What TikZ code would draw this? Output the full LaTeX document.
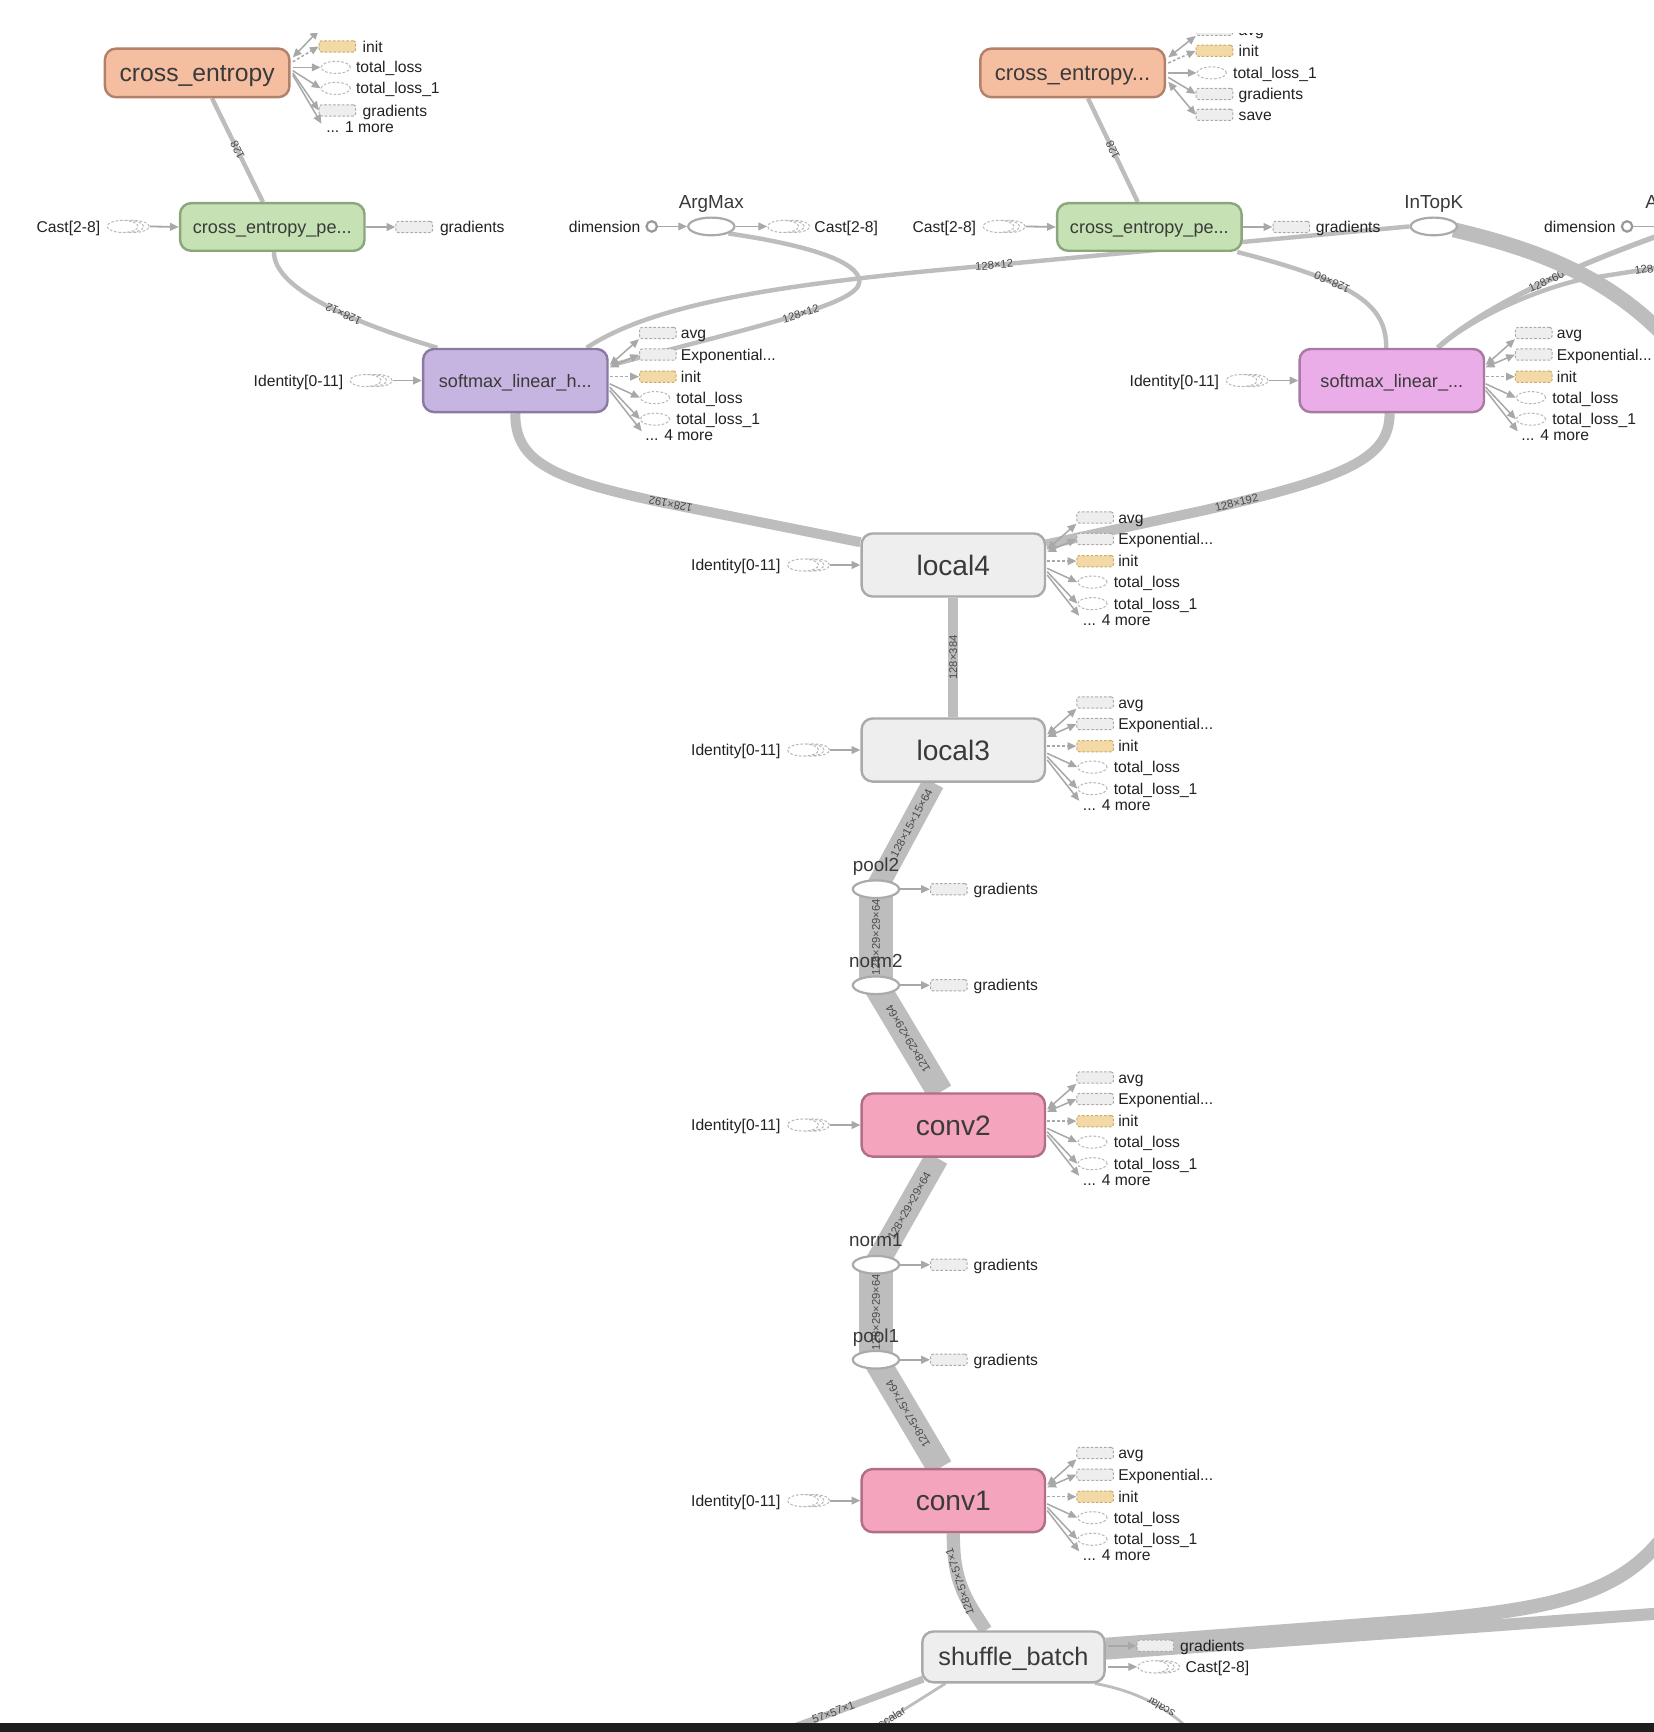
\documentclass[tikz,border=0pt]{standalone}
\usepackage{fontspec}
\setmainfont{Liberation Sans}
\usetikzlibrary{arrows.meta,shapes.geometric,calc}
\pgfdeclarelayer{edges}
\pgfsetlayers{edges,main}
\definecolor{edgec}{HTML}{BDBDBD}
\definecolor{arrc}{HTML}{A8A8A8}
\definecolor{txt}{HTML}{222222}
\definecolor{btxt}{HTML}{3A3A3A}
\definecolor{elbl}{HTML}{4A4A4A}
\definecolor{cefill}{HTML}{F5BEA0}
\definecolor{celine}{HTML}{B3806A}
\definecolor{pefill}{HTML}{C6E2B4}
\definecolor{peline}{HTML}{8BA57D}
\definecolor{s1fill}{HTML}{C6B5E0}
\definecolor{s1line}{HTML}{8A7AA3}
\definecolor{s2fill}{HTML}{EBADE8}
\definecolor{s2line}{HTML}{A77AA4}
\definecolor{gfill}{HTML}{EEEEEE}
\definecolor{gline}{HTML}{AAAAAA}
\definecolor{cvfill}{HTML}{F5A4BD}
\definecolor{cvline}{HTML}{B06F86}
\definecolor{initfill}{HTML}{F2D9A6}
\definecolor{initline}{HTML}{C9AC6C}
\definecolor{dline}{HTML}{B8B8B8}
\definecolor{dimline}{HTML}{999999}
\definecolor{darkstrip}{HTML}{1E1E1E}
\tikzset{
 >={Triangle[length=4.4pt,width=3.8pt]},
 bigbox/.style={draw, rounded corners=5.5pt, line width=1.2pt, inner sep=0pt, text=btxt, minimum width=91.85pt},
 cebox/.style={bigbox, fill=cefill, draw=celine, minimum height=24.2pt},
 pebox/.style={bigbox, fill=pefill, draw=peline, minimum height=23.7pt, font=\fontsize{9}{10}\selectfont, text height=6.5pt, text depth=0pt},
 s1box/.style={bigbox, fill=s1fill, draw=s1line, minimum height=31.4pt, font=\fontsize{9}{10}\selectfont, text height=6.5pt, text depth=0pt},
 s2box/.style={bigbox, fill=s2fill, draw=s2line, minimum height=31.4pt, font=\fontsize{9}{10}\selectfont, text height=6.5pt, text depth=0pt},
 lbox/.style={bigbox, fill=gfill, draw=gline, minimum width=91.3pt, minimum height=31.4pt, font=\fontsize{14}{16}\selectfont, text height=10pt, text depth=0pt},
 cvbox/.style={lbox, fill=cvfill, draw=cvline},
 sbbox/.style={bigbox, fill=gfill, draw=gline, minimum width=90.8pt, minimum height=25.3pt, font=\fontsize{12.6}{14}\selectfont, text height=9pt, text depth=0pt},
 srect/.style={draw=gline, fill=gfill, dash pattern=on 1.3pt off 0.9pt, line width=0.5pt, rounded corners=1.2pt, minimum width=18.2pt, minimum height=5.6pt, inner sep=0pt},
 irect/.style={srect, fill=initfill, draw=initline},
 sell/.style={ellipse, draw=dline, fill=white, dash pattern=on 1.3pt off 0.9pt, line width=0.5pt, minimum width=14.6pt, minimum height=6pt, inner sep=0pt},
 stell/.style={sell, minimum width=15.4pt},
 opell/.style={ellipse, draw=gline, fill=white, line width=1.1pt, minimum width=23pt, minimum height=8.8pt, inner sep=0pt},
 dimc/.style={circle, draw=dimline, fill=white, line width=1.1pt, minimum size=5.2pt, inner sep=0pt},
 lbl/.style={font=\fontsize{7.8}{9}\selectfont, text=txt, inner sep=0pt, text height=5.6pt, text depth=0pt},
 oplbl/.style={font=\fontsize{9.4}{11}\selectfont, text=btxt, inner sep=0pt, text height=6.7pt, text depth=0pt},
 elab/.style={font=\fontsize{5.6}{6.5}\selectfont, text=elbl, sloped, allow upside down, inner sep=0.6pt},
 band/.style={draw=edgec, line cap=butt},
 fanarr/.style={draw=arrc, line width=0.75pt, ->},
 fanbi/.style={draw=arrc, line width=0.75pt, <->},
 fandot/.style={draw=arrc, line width=0.75pt, ->, dash pattern=on 1.4pt off 1.1pt},
 connarr/.style={draw=arrc, line width=0.9pt, ->},
}
\newcommand\sernode[3]{%
  \node[stell] (#1c) at (#2+24,#3) {};
  \node[stell] (#1b) at (#2+19,#3) {};
  \node[stell] (#1) at (#2+14,#3) {};}
\newcommand\outfan[3]{%
 \begin{scope}[shift={(#2,#3)}]
  \node[srect] (#1avg) at (45.5,-43) {};
  \node[lbl,anchor=west] (#1avgt) at (66,-43) {avg};
  \node[srect] (#1exp) at (45.5,-23.5) {};
  \node[lbl,anchor=west] (#1expt) at (66,-23.5) {Exponential...};
  \node[irect] (#1ini) at (45.5,-3.5) {};
  \node[lbl,anchor=west] (#1init) at (66,-3.5) {init};
  \node[sell] (#1tl) at (43,15.5) {};
  \node[lbl,anchor=west] (#1tlt) at (62,15.5) {total\_loss};
  \node[sell] (#1tlb) at (43,35) {};
  \node[lbl,anchor=west] (#1tlbt) at (62,35) {total\_loss\_1};
  \node[lbl,anchor=west] (#1more) at (34,49.5) {... 4 more};
  \coordinate (#1p1) at (2,-14);
  \coordinate (#1p2) at (2,-12);
  \coordinate (#1p3) at (2,-3.5);
  \coordinate (#1p4) at (2,3);
  \coordinate (#1p5) at (2,6);
  \coordinate (#1p6) at (2,9);
  \coordinate (#1p7) at (31,46);
  \draw[fanbi] (#1p1) -- (#1avg.south west);
  \draw[fanbi] (#1p2) -- (#1exp.west);
  \draw[fandot] (#1p3) -- (#1ini.west);
  \draw[fanarr] (#1p4) -- (#1tl.west);
  \draw[fanarr] (#1p5) -- (#1tlb.west);
  \draw[fanarr] (#1p6) -- (#1p7);
 \end{scope}}
\begin{document}
\begin{tikzpicture}[x=0.55pt,y=-0.55pt]
\useasboundingbox (0,0) rectangle (1497,1568);

% ---------- main nodes ----------
\node[cebox, font=\fontsize{12.3}{14}\selectfont, text height=8.8pt, text depth=0pt] (ce1) at (178.5,66) {cross\_entropy};
\node[cebox, font=\fontsize{11}{13}\selectfont, text height=7.9pt, text depth=0pt] (ce2) at (971,66) {cross\_entropy...};
\node[pebox] (pe1) at (246.5,205.5) {cross\_entropy\_pe...};
\node[pebox] (pe2) at (1040.5,205.5) {cross\_entropy\_pe...};
\node[s1box] (s1) at (466.5,344.5) {softmax\_linear\_h...};
\node[s2box] (s2) at (1260,344.5) {softmax\_linear\_...};
\node[lbox] (l4) at (863,511.5) {local4};
\node[lbox] (l3) at (863,679) {local3};
\node[cvbox] (c2) at (863,1018.5) {conv2};
\node[cvbox] (c1) at (863,1358.5) {conv1};
\node[sbbox] (sb) at (917.5,1500) {shuffle\_batch};

% ---------- op ellipses ----------
\node[opell] (am) at (644,205) {};
\node[oplbl] (amt) at (644,183) {ArgMax};
\node[opell] (itk) at (1298,205) {};
\node[oplbl] (itkt) at (1298,183) {InTopK};
\node[opell] (p2) at (793,805) {};
\node[oplbl] (p2t) at (793,783) {pool2};
\node[opell] (n2) at (793,892) {};
\node[oplbl] (n2t) at (793,869.5) {norm2};
\node[opell] (n1) at (793,1145) {};
\node[oplbl] (n1t) at (793,1122.5) {norm1};
\node[opell] (p1) at (793,1231) {};
\node[oplbl] (p1t) at (793,1209) {pool1};

% ---------- dimension constants ----------
\node[dimc] (d1) at (590,205) {};
\node[lbl,anchor=east] (d1t) at (580,205) {dimension};
\node[dimc] (d2) at (1473,205) {};
\node[lbl,anchor=east] (d2t) at (1463,205) {dimension};
\node[oplbl] (am2t) at (1519,183) {ArgMax};
\coordinate (d2out) at (1540,205);
\draw[connarr] (d1.east) -- (am.west);
\draw[draw=arrc, line width=0.9pt] (d2.east) -- (d2out);

% ---------- series nodes ----------
\sernode{cs1}{97}{205}
\node[lbl,anchor=east] (cs1t) at (91,205) {Cast[2-8]};
\draw[connarr] (cs1c.east) -- (pe1.west);
\sernode{cs2}{695}{205}
\node[lbl,anchor=west] (cs2t) at (737,205) {Cast[2-8]};
\draw[connarr] (am.east) -- (cs2.west);
\sernode{cs3}{890}{205}
\node[lbl,anchor=east] (cs3t) at (884,205) {Cast[2-8]};
\draw[connarr] (cs3c.east) -- (pe2.west);
\sernode{id1}{317}{344.5}
\node[lbl,anchor=east] (id1t) at (311,344.5) {Identity[0-11]};
\draw[connarr] (id1c.east) -- (s1.west);
\sernode{id2}{1110}{344.5}
\node[lbl,anchor=east] (id2t) at (1104,344.5) {Identity[0-11]};
\draw[connarr] (id2c.east) -- (s2.west);
\sernode{id3}{713}{511.5}
\node[lbl,anchor=east] (id3t) at (707,511.5) {Identity[0-11]};
\draw[connarr] (id3c.east) -- (l4.west);
\sernode{id4}{713}{679}
\node[lbl,anchor=east] (id4t) at (707,679) {Identity[0-11]};
\draw[connarr] (id4c.east) -- (l3.west);
\sernode{id5}{713}{1018.5}
\node[lbl,anchor=east] (id5t) at (707,1018.5) {Identity[0-11]};
\draw[connarr] (id5c.east) -- (c2.west);
\sernode{id6}{713}{1358.5}
\node[lbl,anchor=east] (id6t) at (707,1358.5) {Identity[0-11]};
\draw[connarr] (id6c.east) -- (c1.west);
\sernode{cs4}{1030}{1509}
\node[lbl,anchor=west] (cs4t) at (1073,1509) {Cast[2-8]};
\draw[connarr] ($(sb.east)+(2,9)$) -- (cs4.west);

% ---------- gradients ----------
\node[srect] (g1) at (375,205.5) {};
\node[lbl,anchor=west] (g1t) at (398,205.5) {gradients};
\draw[connarr] (pe1.east) -- (g1.west);
\node[srect] (g2) at (1169,205.5) {};
\node[lbl,anchor=west] (g2t) at (1191,205.5) {gradients};
\draw[connarr] (pe2.east) -- (g2.west);
\node[srect] (g3) at (859,805) {};
\node[lbl,anchor=west] (g3t) at (881,805) {gradients};
\draw[connarr] (p2.east) -- (g3.west);
\node[srect] (g4) at (859,892) {};
\node[lbl,anchor=west] (g4t) at (881,892) {gradients};
\draw[connarr] (n2.east) -- (g4.west);
\node[srect] (g5) at (859,1145) {};
\node[lbl,anchor=west] (g5t) at (881,1145) {gradients};
\draw[connarr] (n1.east) -- (g5.west);
\node[srect] (g6) at (859,1231) {};
\node[lbl,anchor=west] (g6t) at (881,1231) {gradients};
\draw[connarr] (p1.east) -- (g6.west);
\node[srect] (g7) at (1046,1490) {};
\node[lbl,anchor=west] (g7t) at (1068,1490) {gradients};
\draw[connarr] ($(sb.east)+(2,-10)$) -- (g7.west);

% ---------- output fans ----------
\outfan{fsa}{550}{344.5}
\outfan{fsb}{1343}{344.5}
\outfan{fla}{946}{511.5}
\outfan{flb}{946}{679}
\outfan{fca}{946}{1018.5}
\outfan{fcb}{946}{1358.5}

% cross_entropy (left) outputs
\node[srect] (e1avg) at (305.5,22) {};
\node[irect] (e1ini) at (305.5,42) {};
\node[lbl,anchor=west] (e1init) at (328,42) {init};
\node[sell] (e1tl) at (304,61) {};
\node[lbl,anchor=west] (e1tlt) at (322,61) {total\_loss};
\node[sell] (e1tlb) at (304,80) {};
\node[lbl,anchor=west] (e1tlbt) at (322,80) {total\_loss\_1};
\node[srect] (e1gr) at (305.5,100) {};
\node[lbl,anchor=west] (e1grt) at (328,100) {gradients};
\node[lbl,anchor=west] (e1more) at (295,115) {... 1 more};
\coordinate (e1mo) at (291,112);
\draw[fanbi] ($(ce1.east)+(2,-14)$) -- (e1avg.south west);
\draw[fandot] ($(ce1.east)+(2,-10)$) -- (e1ini.west);
\draw[fanarr] ($(ce1.east)+(2,-5)$) -- (e1tl.west);
\draw[fanarr] ($(ce1.east)+(2,-2)$) -- (e1tlb.west);
\draw[fanarr] ($(ce1.east)+(2,0)$) -- (e1gr.west);
\draw[fanarr] ($(ce1.east)+(2,2)$) -- (e1mo);

% cross_entropy... (right) outputs
\node[srect] (e2avg) at (1099.5,27) {};
\node[lbl,anchor=west] (e2avgt) at (1121,27) {avg};
\node[irect] (e2ini) at (1099.5,46) {};
\node[lbl,anchor=west] (e2init) at (1121,46) {init};
\node[sell] (e2tlb) at (1097,66) {};
\node[lbl,anchor=west] (e2tlbt) at (1116,66) {total\_loss\_1};
\node[srect] (e2gr) at (1099.5,85) {};
\node[lbl,anchor=west] (e2grt) at (1121,85) {gradients};
\node[srect] (e2sv) at (1099.5,104) {};
\node[lbl,anchor=west] (e2svt) at (1121,104) {save};
\draw[fanbi] ($(ce2.east)+(2,-14)$) -- (e2avg.south west);
\draw[fandot] ($(ce2.east)+(2,-9)$) -- (e2ini.west);
\draw[fanarr] ($(ce2.east)+(2,0)$) -- (e2tlb.west);
\draw[fanarr] ($(ce2.east)+(2,4)$) -- (e2gr.west);
\draw[fanbi] ($(ce2.east)+(2,8)$) -- (e2sv.west);

% ---------- edges ----------
\coordinate (b7) at (1540,200);
\coordinate (b8) at (1540,236);
\coordinate (b9) at (1530,330);
\coordinate (b10) at (1520,1370);
\coordinate (b11) at (1540,1458);
\coordinate (b12) at (688,1575);
\coordinate (b13) at (775,1575);
\coordinate (b14) at (1085,1575);
\begin{pgfonlayer}{edges}
\fill[white] (0,0) rectangle (1497,1568);
\draw[band,line width=2.2pt] ($(pe1.north)+(-8.5,0)$) -- node[elab]{128} ($(ce1.south)+(13.5,0)$);
\draw[band,line width=2.2pt] ($(pe2.north)+(-10.5,0)$) -- node[elab]{128} ($(ce2.south)+(14,0)$);
\draw[band,line width=2.2pt] ($(s1.north west)+(14,0)$) .. controls (320,292) and (248,262) .. node[elab,pos=0.4]{128×12} ($(pe1.south)+(1.5,0)$);
\draw[band,line width=2.2pt] ($(s1.east)+(3,-14)$) .. controls (680,296) and (778,276) .. node[elab,pos=0.55]{128×12} (778,255) .. controls (778,232) and (705,218) .. (am.south east);
\draw[band,line width=2.2pt] ($(s1.north east)+(-20,0)$) .. controls (590,276) and (700,257) .. node[elab,pos=1]{128×12} (900,240) -- (itk.west);
\draw[band,line width=2.2pt] ($(s2.north)+(-5,0)$) .. controls (1255,276) and (1228,256) .. node[elab,pos=0.65]{128×60} ($(pe2.south east)+(-5,0)$);
\draw[band,line width=2.6pt] ($(s2.north east)+(-43,0)$) .. controls (1340,280) and (1420,240) .. node[elab,pos=0.54]{128×60} (b7);
\draw[band,line width=2.2pt] ($(s2.north east)+(-43,0)$) .. controls (1340,282) and (1400,260) .. (1432,253) -- node[elab,pos=0.6]{128×60} (b8);
\draw[band,line width=7.5pt] ($(itk.east)+(-4,3)$) .. controls (1400,228) and (1470,255) .. (b9);
\draw[band,line width=5pt] ($(l4.north west)+(0,9)$) -- node[elab,pos=0.96]{128×192} (600,455) .. controls (500,434) and (466,418) .. (s1.south);
\draw[band,line width=5pt] ($(l4.north east)+(0,11)$) -- (1090,462) .. controls (1220,432) and (1258,415) .. node[elab,pos=0.08]{128×192} ($(s2.south)+(-2,0)$);
\draw[band,line width=5pt] (l3.north) -- node[elab]{128×384} (l4.south);
\draw[band,line width=11pt] (p2.center) -- node[elab,pos=0.62]{128×15×15×64} ($(l3.south)+(-18,0)$);
\draw[band,line width=16.5pt] (n2.center) -- node[elab]{128×29×29×64} (p2.center);
\draw[band,line width=13pt] ($(c2.north)+(-12,0)$) -- node[elab]{128×29×29×64} (n2.center);
\draw[band,line width=12pt] (n1.center) -- node[elab,pos=0.55]{128×29×29×64} ($(c2.south)+(-15,0)$);
\draw[band,line width=16.5pt] (p1.center) -- node[elab]{128×29×29×64} (n1.center);
\draw[band,line width=13pt] ($(c1.north)+(-12,0)$) -- node[elab]{128×57×57×64} (p1.center);
\draw[band,line width=6.6pt] ($(sb.north)+(-25,0)$) .. controls (872,1445) and (863,1430) .. node[elab,pos=0.55]{128×57×57×1} (c1.south);
\draw[band,line width=7pt] ($(sb.east)+(0,-11)$) -- (1290,1467) .. controls (1420,1455) and (1480,1440) .. (b10);
\draw[band,line width=6pt] ($(sb.east)+(0,-3)$) -- (b11);
\draw[band,line width=3.5pt] (b12) -- node[elab,pos=0.45]{57×57×1} ($(sb.south west)+(2,-4)$);
\draw[band,line width=1.4pt] (b13) -- node[elab,pos=0.4]{scalar} ($(sb.south west)+(22,0)$);
\draw[band,line width=1.4pt] (b14) .. controls (1060,1545) and (1025,1530) .. node[elab,pos=0.4]{scalar} ($(sb.south east)+(-10,0)$);
\end{pgfonlayer}

% ---------- frame: clipped top and dark bottom strip ----------
\fill[white] (0,0) rectangle (1497,30);
\fill[darkstrip] (0,1560) rectangle (1497,1568);
\end{tikzpicture}
\end{document}
